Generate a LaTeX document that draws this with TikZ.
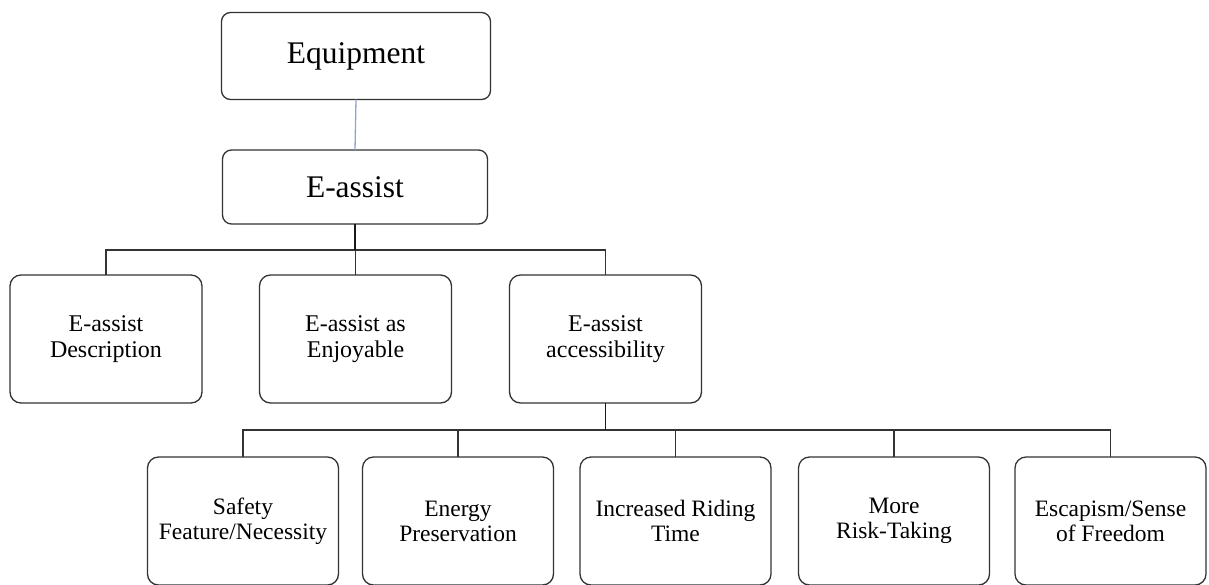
\documentclass[tikz,border=0pt]{standalone}
\usepackage{fontspec}
\setmainfont{Liberation Serif}
\definecolor{paleblue}{RGB}{140,165,210}
\begin{document}
\begin{tikzpicture}[x=1pt,y=-1pt,
  box/.style={draw=black!80, line width=1.3pt, rounded corners=11pt, align=center,
    inner sep=2pt, outer sep=0pt},
  topbox/.style={box, rounded corners=9pt, font=\fontsize{31.5}{36}\selectfont},
  midbox/.style={box, minimum width=192pt, minimum height=128pt,
    font=\fontsize{24}{25.5}\selectfont},
  lowbox/.style={box, minimum width=191pt, minimum height=128pt,
    font=\fontsize{23.5}{25}\selectfont},
  link/.style={draw=black!80, line width=1.2pt},
  stem/.style={draw=black!90, line width=1.7pt},
  softlink/.style={draw=paleblue, line width=1.3pt}]
\useasboundingbox (0,0) rectangle (1209,584);

% top of the tree
\node[topbox, minimum width=269pt, minimum height=87pt] (equip) at (356,56) {Equipment};
\node[topbox, minimum width=265pt, minimum height=74pt] (eassist) at (355,187) {E-assist};

% second level
\node[midbox] (desc)   at (106,339)   {E-assist\\Description};
\node[midbox] (enjoy)  at (355.5,339) {E-assist as\\Enjoyable};
\node[midbox] (access) at (605.5,339) {E-assist\\accessibility};

% third level
\node[lowbox] (safety)   at (243,521)    {Safety\\Feature/Necessity};
\node[lowbox] (energy)   at (458,521)    {Energy\\Preservation};
\node[lowbox] (riding)   at (675.5,521)  {Increased Riding\\Time};
\node[lowbox] (risk)     at (894,521)    {More\\Risk-Taking};
\node[lowbox] (freedom)  at (1110.5,521) {Escapism/Sense\\of Freedom};

% connectors
\path[softlink] (equip.south) -- (eassist.north);

\coordinate (busA) at (0,250);
\path[link] (desc.north) -- (desc.north |- busA) -- (access.north |- busA) -- (access.north);
\path[link] (enjoy.north) -- (enjoy.north |- busA);
\path[stem] (eassist.south) -- (eassist.south |- busA);

\coordinate (busB) at (0,430);
\path[link] (safety.north) -- (safety.north |- busB) -- (freedom.north |- busB) -- (freedom.north);
\path[link] (energy.north) -- (energy.north |- busB);
\path[link] (riding.north) -- (riding.north |- busB);
\path[link] (risk.north) -- (risk.north |- busB);
\path[stem] (access.south) -- (access.south |- busB);
\end{tikzpicture}
\end{document}
